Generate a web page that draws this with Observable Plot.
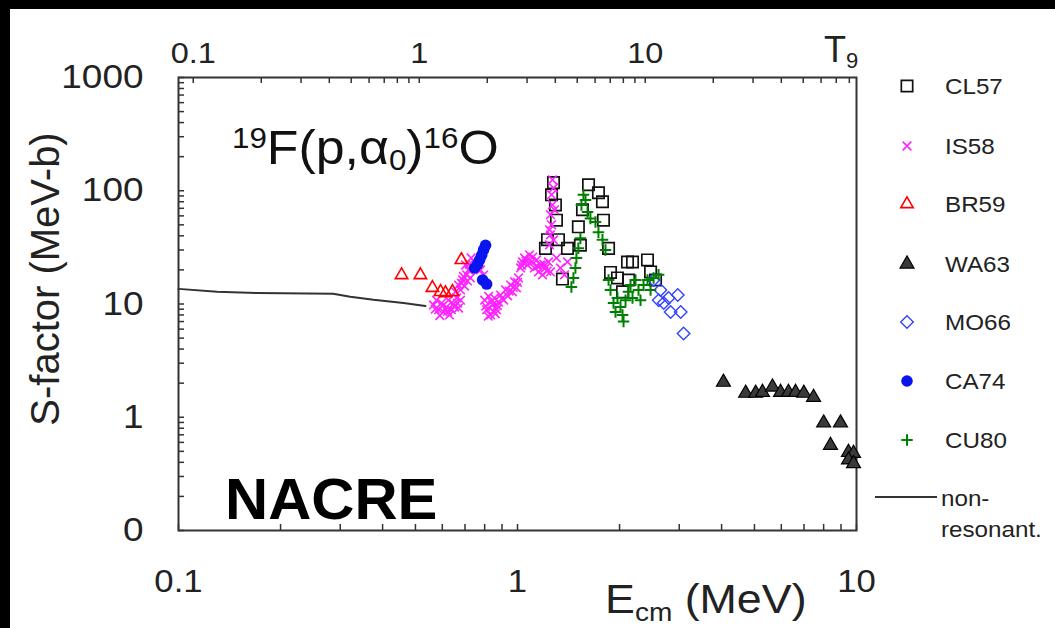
<!DOCTYPE html>
<html>
<head>
<meta charset="utf-8">
<script src="https://cdn.jsdelivr.net/npm/d3@7"></script>
<script src="https://cdn.jsdelivr.net/npm/@observablehq/plot@0.6"></script>
<style>
  html, body { margin: 0; padding: 0; background: #fff; }
  #chart { width: 1055px; height: 628px; overflow: hidden; }
</style>
</head>
<body>
<div id="chart"></div>
<script>
// ---------------- DATA (E_cm in MeV, S-factor in MeV-b) ----------------
const CL57 = [[1.277,118],[1.260,92],[1.294,75],[1.303,55],[1.226,37],[1.321,37],[1.209,31],[1.404,31],[1.533,33],[1.512,48],[1.555,68],[1.620,113],[1.733,96],[1.781,80],[1.793,55],[1.856,31],[1.357,16.6],[1.881,19],[1.972,17],[2.111,23.5],[2.184,23.5],[2.126,16.3],[2.418,24.5],[2.469,19.2],[2.554,16.3],[2.041,12.8]];
const IS58 = [[0.565,9.8],[0.577,10.8],[0.585,8.9],[0.597,10.2],[0.605,8.5],[0.617,9.4],[0.626,10.8],[0.638,8.9],[0.647,10.0],[0.661,11.3],[0.670,9.2],[0.679,10.8],[0.59,7.9],[0.63,8.0],
  [0.572,9.0],[0.600,9.6],[0.622,8.6],[0.652,9.4],[0.665,10.2],
  [0.656,12.8],[0.670,14.7],[0.679,13.3],[0.689,16.3],[0.698,14.4],[0.708,18.1],[0.717,20.0],[0.726,17.0],[0.736,20.8],[0.747,23.5],[0.703,22.1],[0.730,25.5],[0.760,21.5],[0.778,20.0],[0.794,18.0],
  [0.684,15.2],[0.693,17.5],[0.712,16.0],[0.721,22.5],
  [0.800,10.8],[0.811,8.9],[0.822,11.7],[0.833,8.0],[0.844,9.8],[0.855,11.3],[0.867,8.9],[0.879,10.4],[0.82,7.8],[0.86,8.2],
  [0.806,9.6],[0.838,10.5],[0.850,8.6],[0.872,9.7],
  [0.891,12.0],[0.910,10.8],[0.922,13.3],[0.935,11.8],[0.954,14.7],[0.967,12.8],[0.980,15.7],[0.993,13.9],[1.007,17.0],
  [0.900,11.2],[0.945,13.0],[0.972,14.0],[1.000,15.5],
  [1.021,20.8],[1.035,23.5],[1.049,25.5],[1.070,22.1],[1.085,27.2],[1.100,23.5],[1.122,20.8],[1.138,24.5],[1.153,19.2],[1.169,22.1],[1.185,18.1],[1.209,20.8],[1.234,23.5],[1.251,19.2],[1.303,25.5],[1.339,20.8],[1.376,18.1],[1.404,23.5],
  [1.028,22.0],[1.060,24.0],[1.110,26.0],[1.145,21.5],[1.195,22.5],[1.222,19.5],
  [1.243,33.3],[1.251,40.8],[1.260,50.0],[1.251,61.4],[1.268,75.2],[1.260,92.2],[1.277,106],[1.268,125],[1.243,45.2],[1.277,36.8],[1.285,67.9]];
const BR59 = [[0.455,18],[0.517,18],[0.561,13.9],[0.593,12.8],[0.613,12.5],[0.643,12.8],[0.683,24.5]];
const WA63 = [[4.05,2.04],[4.71,1.63],[5.04,1.63],[5.28,1.66],[5.65,1.85],[5.97,1.66],[6.30,1.66],[6.61,1.66],[6.99,1.63],[7.47,1.50],[8.0,0.89],[8.97,0.89],[8.38,0.565],[9.47,0.49],[9.80,0.48],[9.47,0.42],[9.80,0.39]];
const MO66 = [[2.52,16.3],[2.64,13.3],[2.70,10.2],[2.79,11.3],[2.83,8.5],[2.97,12.0],[3.03,8.5],[3.09,5.5],[2.61,10.8]];
const CA74 = [[0.805,33],[0.794,30],[0.784,27],[0.773,24.5],[0.763,22.5],[0.747,20.8],[0.789,16.3],[0.811,15]];
const CU80 = [[1.442,14.1],[1.462,17],[1.482,20.8],[1.492,25.5],[1.512,31],[1.533,38],[1.544,75],[1.565,92],[1.587,83],[1.609,65],[1.641,57],[1.698,53],[1.733,43],[1.781,37],[1.818,30],[1.856,16.3],[1.881,13.3],[1.920,10.2],[1.946,8.5],[1.972,11.3],[2.013,9.4],[2.041,8.0],[2.055,7.0],[2.083,10.8],[2.126,12.8],[2.155,14.7],[2.184,11.3],[2.229,16.3],[2.275,13.3],[2.306,10.8],[2.354,14.7],[2.418,16.3],[2.469,13.3],[2.520,17],[2.607,18.1]];
const nonResonant = [[0.100,13.6],[0.130,12.8],[0.171,12.5],[0.286,12.3],[0.321,11.6],[0.376,10.9],[0.461,10.2],[0.535,9.6]];

// ---------------- TICKS ----------------
const xMajor = [0.1, 1, 10];
const xMinor = [0.2,0.3,0.4,0.5,0.6,0.7,0.8,0.9,2,3,4,5,6,7,8,9];
const yMajor = [0.1, 1, 10, 100, 1000];
const yLabels = ["0", "1", "10", "100", "1000"];
const yMinor = [0.2,0.3,0.4,0.5,0.6,0.7,0.8,0.9,2,3,4,5,6,7,8,9,20,30,40,50,60,70,80,90,200,300,400,500,600,700,800,900];
const t9Major = [0.1, 1, 10];
const t9Labels = ["0.1", "1", "10"];
const t9Minor = [0.2,0.3,0.4,0.5,0.6,0.7,0.8,0.9,2,3,4,5,6,7,8,9,20,30,40,50,60,70,80];
const gamowE1 = 0.513; // Gamow-peak energy (MeV) at T9 = 1 for p + 19F
const t9ToE = t => gamowE1 * Math.pow(t, 2 / 3);

const legendNames = ["CL57","IS58","BR59","WA63","MO66","CA74","CU80"];

// ---------------- STYLES ----------------
const FONT = "Liberation Sans, Arial, Helvetica, sans-serif";
const styles = {
  CL57: {symbol: "square",   r: 6.4, fill: "none",    stroke: "#111",    strokeWidth: 1.7},
  IS58: {symbol: "times",    r: 4,   fill: "none",    stroke: "#ff22ff", strokeWidth: 1.6},
  BR59: {symbol: "triangle", r: 4.6, fill: "none",    stroke: "#ff0000", strokeWidth: 1.6},
  WA63: {symbol: "triangle", r: 5.2, fill: "#3a3a3a", stroke: "#000",    strokeWidth: 1.2},
  MO66: {symbol: "square",   r: 5,   fill: "none",    stroke: "#3344ff", strokeWidth: 1.4, rotate: 45},
  CA74: {symbol: "circle",   r: 5.8, fill: "#0a14ee", stroke: "none",    strokeWidth: 0},
  CU80: {symbol: "plus",     r: 3.8, fill: "none",    stroke: "#008000", strokeWidth: 2}
};
const seriesData = {CL57, IS58, BR59, WA63, MO66, CA74, CU80};
const toRows = arr => arr.map(([E, S]) => ({E, S}));

const yLabelMap = new Map(yMajor.map((v, i) => [v, yLabels[i]]));
const t9Rows = t9Major.map((t, i) => ({E: t9ToE(t), label: t9Labels[i]}));

const dotMarks = legendNames.map(name =>
  Plot.dot(toRows(seriesData[name]), {x: "E", y: "S", ...styles[name]})
);

const chart = Plot.plot({
  width: 1055,
  height: 628,
  marginLeft: 178,
  marginRight: 199,
  marginTop: 77,
  marginBottom: 98,
  style: {background: "white", fontFamily: FONT, color: "#222", overflow: "visible"},
  x: {type: "log", domain: [0.1, 10]},
  y: {type: "log", domain: [0.1, 1000]},
  marks: [
    // bottom axis
    Plot.axisX(xMajor, {anchor: "bottom", tickSize: 0, tickPadding: 39, fontSize: 31, tickFormat: d => String(d), label: null}),
    Plot.axisX([...xMajor, ...xMinor], {anchor: "bottom", tickSize: -6, tickFormat: () => "", stroke: "#333", strokeWidth: 1.5, label: null}),
    // top T9 axis: inward ticks + labels
    Plot.axisX([...t9Major, ...t9Minor].map(t9ToE), {anchor: "top", tickSize: -5, tickFormat: () => "", stroke: "#333", strokeWidth: 1.5, label: null}),
    Plot.text(t9Rows, {x: "E", text: "label", frameAnchor: "top", lineAnchor: "bottom", dy: -15, fontSize: 29, fill: "#222"}),
    // left axis
    Plot.axisY(yMajor, {anchor: "left", tickSize: 0, tickPadding: 35, fontSize: 33, tickFormat: d => yLabelMap.get(d), label: null}),
    Plot.axisY([...yMajor, ...yMinor], {anchor: "left", tickSize: -6, tickFormat: () => "", stroke: "#333", strokeWidth: 1.5, label: null}),
    Plot.frame({stroke: "#333", strokeWidth: 2}),
    Plot.line(toRows(nonResonant), {x: "E", y: "S", stroke: "#333", strokeWidth: 2}),
    ...dotMarks
  ]
});
document.getElementById("chart").appendChild(chart);

// stretch the tick labels horizontally a little, like the reference glyphs
d3.select(chart).selectAll('g[aria-label$="tick label"] text, g[aria-label="text"] text').each(function () {
  const t = this.getAttribute("transform");
  if (t) this.setAttribute("transform", t + " scale(1.12,1)");
});

// ---------------- ANNOTATIONS ----------------
const svg = d3.select(chart);
const g = svg.append("g").attr("font-family", FONT).attr("fill", "#111").attr("text-anchor", "start");

// reaction label
const rt = g.append("text").attr("transform", "translate(232,164) scale(1.08,1)").attr("font-size", 48);
rt.append("tspan").attr("font-size", 29).attr("dy", -16).text("19");
rt.append("tspan").attr("dy", 16).text("F(p,α");
rt.append("tspan").attr("font-size", 29).attr("dy", 6).text("0");
rt.append("tspan").attr("dy", -6).text(")");
rt.append("tspan").attr("font-size", 29).attr("dy", -16).text("16");
rt.append("tspan").attr("dy", 16).text("O");

// NACRE
g.append("text").attr("transform", "translate(225,519) scale(1.03,1)")
  .attr("font-size", 58).attr("font-weight", "bold").attr("fill", "#000").text("NACRE");

// x axis label
const xl = g.append("text").attr("transform", "translate(605,613) scale(1.12,1)").attr("font-size", 40).attr("fill", "#222");
xl.append("tspan").text("E");
xl.append("tspan").attr("font-size", 25).attr("dy", 8).text("cm");
xl.append("tspan").attr("dy", -8).text(" (MeV)");

// T9 label
const tl = g.append("text").attr("transform", "translate(824,62)").attr("font-size", 36).attr("fill", "#222");
tl.append("tspan").text("T");
tl.append("tspan").attr("font-size", 22).attr("dy", 6).text("9");

// y axis label
g.append("text").attr("transform", "translate(59,279) rotate(-90)")
  .attr("text-anchor", "middle").attr("font-size", 40).attr("fill", "#222").text("S-factor (MeV-b)");

// ---------------- LEGEND ----------------
const legendY = [86, 146, 204, 264, 322, 381, 440];
const d3Sym = {square: d3.symbolSquare, times: d3.symbolTimes, triangle: d3.symbolTriangle, circle: d3.symbolCircle, plus: d3.symbolPlus};
legendNames.forEach((name, i) => {
  const s = styles[name];
  const y = legendY[i];
  g.append("path")
    .attr("d", d3.symbol(d3Sym[s.symbol], s.r * s.r * Math.PI)())
    .attr("transform", `translate(907,${y})${s.rotate ? ` rotate(${s.rotate})` : ""}`)
    .attr("fill", s.fill).attr("stroke", s.stroke).attr("stroke-width", s.strokeWidth);
  g.append("text").attr("transform", `translate(945,${y + 8}) scale(1.1,1)`)
    .attr("font-size", 22).attr("fill", "#222").text(name);
});
g.append("line").attr("x1", 875).attr("x2", 937).attr("y1", 497).attr("y2", 497)
  .attr("stroke", "#333").attr("stroke-width", 2);
g.append("text").attr("transform", "translate(941,506) scale(1.1,1)").attr("font-size", 22).attr("fill", "#222").text("non-");
g.append("text").attr("transform", "translate(941,537) scale(1.1,1)").attr("font-size", 22).attr("fill", "#222").text("resonant.");

// black border of the original picture (top and left)
svg.append("rect").attr("x", 0).attr("y", 0).attr("width", 1055).attr("height", 9).attr("fill", "#000");
svg.append("rect").attr("x", 0).attr("y", 0).attr("width", 10).attr("height", 628).attr("fill", "#000");
</script>
</body>
</html>
